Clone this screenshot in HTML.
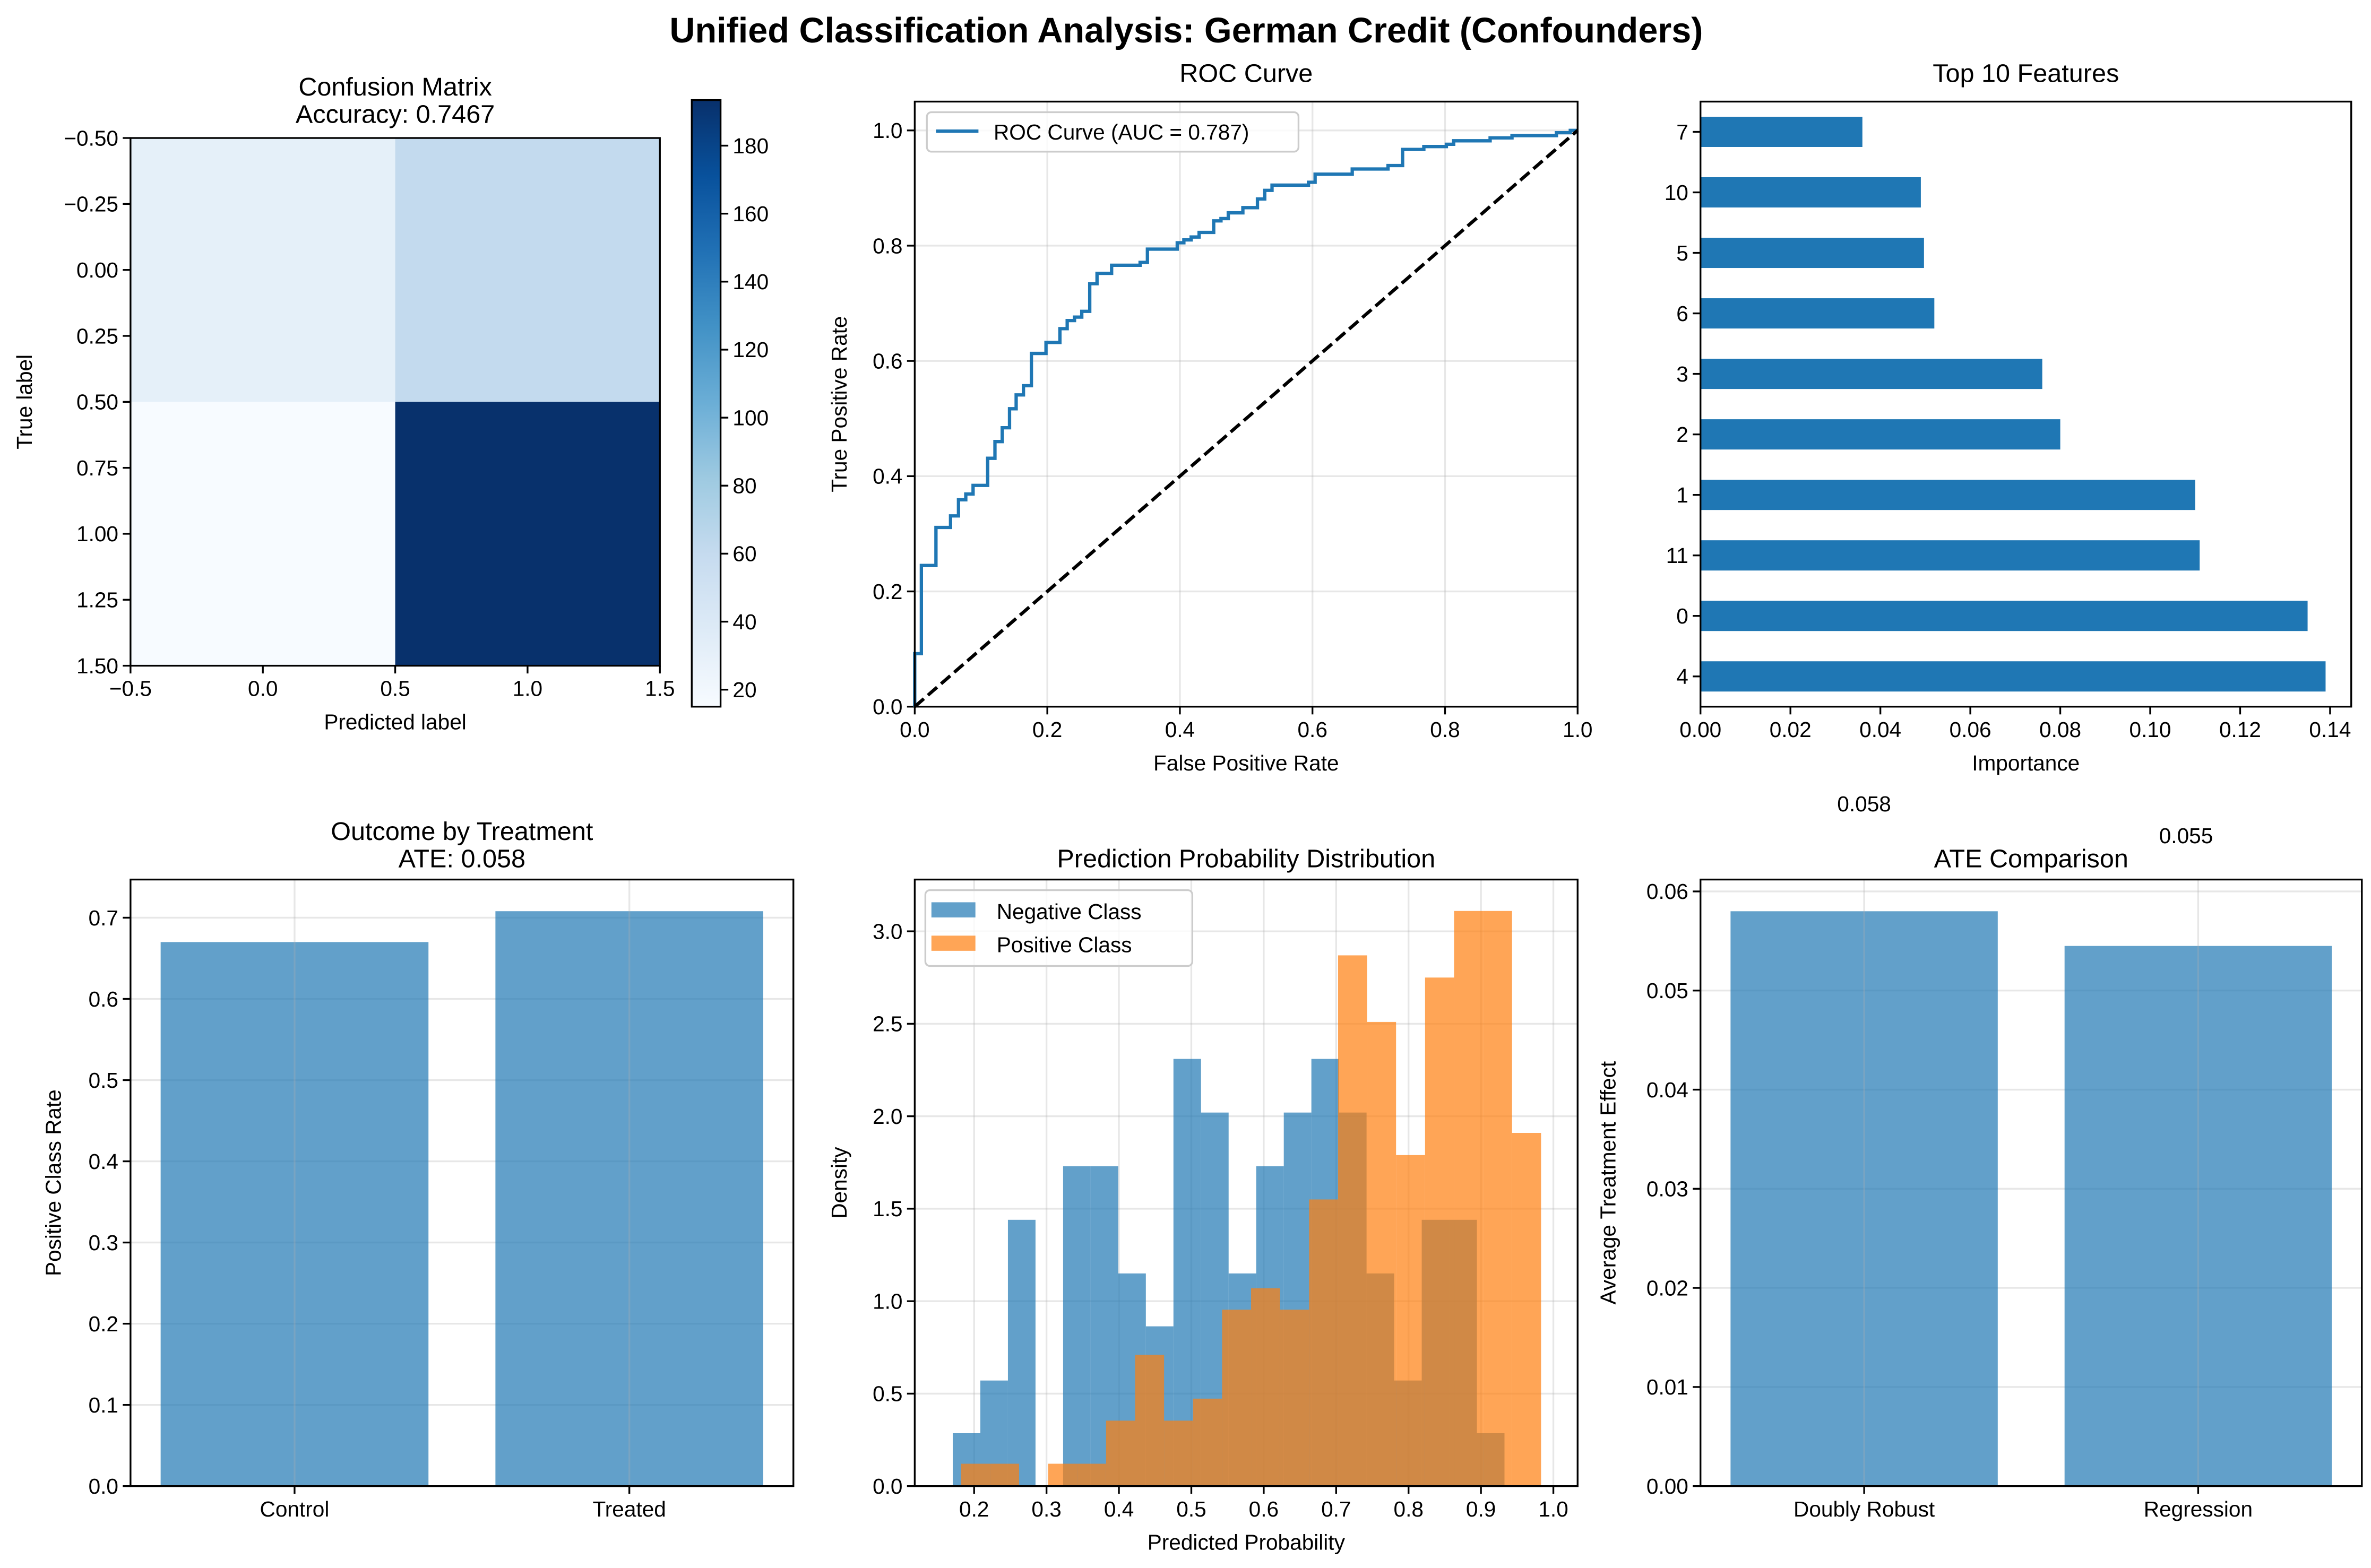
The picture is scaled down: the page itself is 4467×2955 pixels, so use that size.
<!DOCTYPE html>
<html><head><meta charset="utf-8"><style>
html,body{margin:0;padding:0;background:#fff;}
svg{display:block;font-family:"Liberation Sans","DejaVu Sans",sans-serif;}
</style></head><body>
<svg id="fig" xmlns="http://www.w3.org/2000/svg" width="4467" height="2955" viewBox="0 0 1563 1034">
<rect x="0" y="0" width="1563" height="1034" fill="#fff"/>
<text x="782" y="28" text-anchor="middle" font-size="23.3" font-weight="bold">Unified Classification Analysis: German Credit (Confounders)</text>
</svg>
<script>
// ---- data ----
const cmValues = [[31, 61], [15, 193]];
const cmTicksY = [-0.5, -0.25, 0, 0.25, 0.5, 0.75, 1.0, 1.25, 1.5];
const cmTicksX = [-0.5, 0, 0.5, 1.0, 1.5];
const cbTicks = [20, 40, 60, 80, 100, 120, 140, 160, 180];
const rocFpr = [0, 0, 0.01, 0.01, 0.032, 0.032, 0.054, 0.054, 0.066, 0.066, 0.077, 0.077, 0.088, 0.088, 0.11, 0.11, 0.121, 0.121, 0.132, 0.132, 0.143, 0.143, 0.153, 0.153, 0.164, 0.164, 0.176, 0.176, 0.198, 0.198, 0.219, 0.219, 0.23, 0.23, 0.241, 0.241, 0.252, 0.252, 0.264, 0.264, 0.275, 0.275, 0.297, 0.297, 0.34, 0.34, 0.351, 0.351, 0.396, 0.396, 0.406, 0.406, 0.417, 0.417, 0.429, 0.429, 0.451, 0.451, 0.462, 0.462, 0.473, 0.473, 0.495, 0.495, 0.517, 0.517, 0.528, 0.528, 0.539, 0.539, 0.594, 0.594, 0.604, 0.604, 0.66, 0.66, 0.714, 0.714, 0.736, 0.736, 0.768, 0.768, 0.802, 0.802, 0.813, 0.813, 0.868, 0.868, 0.901, 0.901, 0.968, 0.968, 0.989, 0.989, 1.0];
const rocTpr = [0, 0.092, 0.092, 0.245, 0.245, 0.311, 0.311, 0.331, 0.331, 0.359, 0.359, 0.369, 0.369, 0.384, 0.384, 0.431, 0.431, 0.46, 0.46, 0.484, 0.484, 0.517, 0.517, 0.541, 0.541, 0.557, 0.557, 0.613, 0.613, 0.632, 0.632, 0.656, 0.656, 0.67, 0.67, 0.676, 0.676, 0.686, 0.686, 0.734, 0.734, 0.752, 0.752, 0.766, 0.766, 0.771, 0.771, 0.794, 0.794, 0.805, 0.805, 0.81, 0.81, 0.815, 0.815, 0.823, 0.823, 0.843, 0.843, 0.847, 0.847, 0.857, 0.857, 0.866, 0.866, 0.881, 0.881, 0.896, 0.896, 0.905, 0.905, 0.91, 0.91, 0.924, 0.924, 0.933, 0.933, 0.939, 0.939, 0.967, 0.967, 0.972, 0.972, 0.976, 0.976, 0.982, 0.982, 0.987, 0.987, 0.991, 0.991, 0.996, 0.996, 1.0, 1.0];
const unitTicks = [0, 0.2, 0.4, 0.6, 0.8, 1.0];
const featNames = ["7", "10", "5", "6", "3", "2", "1", "11", "0", "4"];
const featValues = [0.036, 0.049, 0.0497, 0.052, 0.076, 0.080, 0.110, 0.111, 0.135, 0.139];
const featTicks = [0, 0.02, 0.04, 0.06, 0.08, 0.10, 0.12, 0.14];
const treatCats = ["Control", "Treated"];
const treatValues = [0.670, 0.708];
const treatTicks = [0, 0.1, 0.2, 0.3, 0.4, 0.5, 0.6, 0.7];
const negStart = 0.1705, negWidth = 0.0381;
const negDensity = [0.286, 0.571, 1.44, 0, 1.73, 1.73, 1.15, 0.864, 2.31, 2.02, 1.15, 1.73, 2.02, 2.31, 2.02, 1.15, 0.571, 1.44, 1.44, 0.286];
const posStart = 0.182, posWidth = 0.04005;
const posDensity = [0.121, 0.121, 0, 0.121, 0.121, 0.354, 0.71, 0.354, 0.473, 0.954, 1.07, 0.954, 1.55, 2.87, 2.51, 1.79, 2.75, 3.11, 3.11, 1.91];
const histTicksX = [0.2, 0.3, 0.4, 0.5, 0.6, 0.7, 0.8, 0.9, 1.0];
const histTicksY = [0, 0.5, 1.0, 1.5, 2.0, 2.5, 3.0];
const ateMethods = ["Doubly Robust", "Regression"];
const ateValues = [0.058, 0.0545];
const ateLabels = ["0.058", "0.055"];
const ateTicks = [0, 0.01, 0.02, 0.03, 0.04, 0.05, 0.06];

// ---- helpers ----
const NS = "http://www.w3.org/2000/svg";
const fig = document.getElementById("fig");
function mk(tag, attrs, parent) {
  const e = document.createElementNS(NS, tag);
  for (const k in attrs) e.setAttribute(k, attrs[k]);
  (parent || fig).appendChild(e);
  return e;
}
function txt(s, attrs, parent) {
  const e = mk("text", attrs, parent);
  e.textContent = s;
  return e;
}
function scale(d0, d1, r0, r1) { return v => r0 + (v - d0) / (d1 - d0) * (r1 - r0); }
const FS = 14.2, GRID = "#b0b0b0";
function lerpHex(a, b, t) {
  const pa = [1,3,5].map(i => parseInt(a.substr(i,2),16));
  const pb = [1,3,5].map(i => parseInt(b.substr(i,2),16));
  return "rgb(" + pa.map((v,i) => Math.round(v + (pb[i]-v)*t)).join(",") + ")";
}
const BLUES = ["#f7fbff","#deebf7","#c6dbef","#9ecae1","#6baed6","#4292c6","#2171b5","#08519c","#08306b"];
function blues(t) {
  t = Math.max(0, Math.min(1, t));
  const p = t * 8, i = Math.min(7, Math.floor(p));
  return lerpHex(BLUES[i], BLUES[i+1], p - i);
}
function frame(g, A) {
  const f = mk("rect", {x:A.L, y:A.T, width:A.R-A.L, height:A.B-A.T, fill:"none", stroke:"#000", "stroke-width":1.17}, g);
  
  
}
function xTicks(g, A, vals, sx, labels, grid) {
  vals.forEach((v, i) => {
    const x = sx(v);
    if (grid) {
      const gl = mk("line", {x1:x, x2:x, y1:A.T, y2:A.B, stroke:GRID, "stroke-opacity":0.3, "stroke-width":1.17}, g);
      
      
    }
    const t = mk("line", {x1:x, x2:x, y1:A.B, y2:A.B+5.1, stroke:"#000", "stroke-width":1.17}, g);
    
    
    const l = txt(labels[i], {x:x, y:A.B+20, "text-anchor":"middle", "font-size":FS}, g);
    
    
  });
}
function yTicks(g, A, vals, sy, labels, grid) {
  vals.forEach((v, i) => {
    const y = sy(v);
    if (grid) {
      const gl = mk("line", {x1:A.L, x2:A.R, y1:y, y2:y, stroke:GRID, "stroke-opacity":0.3, "stroke-width":1.17}, g);
      
      
    }
    const t = mk("line", {x1:A.L-5.1, x2:A.L, y1:y, y2:y, stroke:"#000", "stroke-width":1.17}, g);
    
    
    const l = txt(labels[i], {x:A.L-8, y:y+5, "text-anchor":"end", "font-size":FS}, g);
    
    
  });
}
function titleLines(g, A, lines, base) {
  lines.forEach((s, i) => {
    const t = txt(s, {x:(A.L+A.R)/2, y:base + i*18, "text-anchor":"middle", "font-size":17}, g);
    
    
  });
}
function xLabel(g, A, s) {
  const t = txt(s, {x:(A.L+A.R)/2, y:A.B+42, "text-anchor":"middle", "font-size":FS}, g);
  
  
}
function yLabel(g, A, s, off) {
  const cx = A.L - off, cy = (A.T+A.B)/2;
  const t = txt(s, {x:cx, y:cy, "text-anchor":"middle", "font-size":FS, transform:"rotate(-90 "+cx+" "+cy+")"}, g);
  
  
}
const fmt = d => v => (v < 0 ? "\u2212" : "") + Math.abs(v).toFixed(d);

// ---- Panel 1: confusion matrix ----
(function(){
  const g = mk("g", {});
  
  
  const A = {L:86, R:435, T:91, B:439};
  const sx = scale(-0.5, 1.5, A.L, A.R), sy = scale(-0.5, 1.5, A.T, A.B);
  const vmin = 15, vmax = 193.4;
  cmValues.forEach((row, r) => row.forEach((v, c) => {
    const cell = mk("rect", {x:sx(c-0.5), y:sy(r-0.5), width:sx(c+0.5)-sx(c-0.5), height:sy(r+0.5)-sy(r-0.5), fill:blues((v-vmin)/(vmax-vmin))}, g);
    
    
  }));
  frame(g, A);
  xTicks(g, A, cmTicksX, sx, cmTicksX.map(fmt(1)), false);
  yTicks(g, A, cmTicksY, sy, cmTicksY.map(fmt(2)), false);
  titleLines(g, A, ["Confusion Matrix", "Accuracy: 0.7467"], 63);
  xLabel(g, A, "Predicted label");
  yLabel(g, A, "True label", 65);
  // colorbar
  const C = {L:456, R:475, T:66, B:466};
  const cy = scale(vmin, vmax, C.B, C.T);
  const defs = mk("defs", {}, g);
  const lg = mk("linearGradient", {id:"cbg", x1:0, y1:1, x2:0, y2:0}, defs);
  for (let i = 0; i <= 16; i++) mk("stop", {offset:(i/16), "stop-color":blues(i/16)}, lg);
  const cb = mk("rect", {x:C.L, y:C.T, width:C.R-C.L, height:C.B-C.T, fill:"url(#cbg)", stroke:"#000", "stroke-width":1.17}, g);
  
  
  cbTicks.forEach(v => {
    const y = cy(v);
    const t = mk("line", {x1:C.R, x2:C.R+5.1, y1:y, y2:y, stroke:"#000", "stroke-width":1.17}, g);
    
    
    const l = txt(String(v), {x:C.R+8, y:y+5, "font-size":FS}, g);
    
    
  });
})();

// ---- Panel 2: ROC ----
(function(){
  const g = mk("g", {});
  
  
  const A = {L:603, R:1040, T:67, B:466};
  const sx = scale(0, 1, A.L, A.R), sy = scale(0, 1.05, A.B, A.T);
  xTicks(g, A, unitTicks, sx, unitTicks.map(fmt(1)), true);
  yTicks(g, A, unitTicks, sy, unitTicks.map(fmt(1)), true);
  const d = rocFpr.map((f, i) => (i ? "L" : "M") + sx(f).toFixed(2) + "," + sy(rocTpr[i]).toFixed(2)).join("");
  const p = mk("path", {d:d, fill:"none", stroke:"#1f77b4", "stroke-width":2.2}, g);
  
  
  const dl = mk("line", {x1:sx(0), y1:sy(0), x2:sx(1), y2:sy(1), stroke:"#000", "stroke-width":2.2, "stroke-dasharray":"8 3.5"}, g);
  
  
  frame(g, A);
  titleLines(g, A, ["ROC Curve"], 54);
  xLabel(g, A, "False Positive Rate");
  yLabel(g, A, "True Positive Rate", 45);
  const lb = mk("rect", {x:611, y:74, width:245, height:26, rx:3, fill:"#fff", "fill-opacity":0.8, stroke:"#ccc", "stroke-width":1.17}, g);
  
  
  const ll = mk("line", {x1:617, x2:645, y1:86.5, y2:86.5, stroke:"#1f77b4", "stroke-width":2.2}, g);
  
  
  const lt = txt("ROC Curve (AUC = 0.787)", {x:655, y:92, "font-size":FS}, g);
  
  
})();

// ---- Panel 3: top features ----
(function(){
  const g = mk("g", {});
  
  
  const A = {L:1121, R:1550, T:67, B:466};
  const sx = scale(0, 0.1447, A.L, A.R), sy = scale(-0.5, 9.5, A.B, A.T);
  featValues.forEach((v, i) => {
    const pos = featNames.length - 1 - i;
    const b = mk("rect", {x:sx(0), y:sy(pos+0.25), width:sx(v)-sx(0), height:sy(pos-0.25)-sy(pos+0.25), fill:"#1f77b4"}, g);
    
    
  });
  frame(g, A);
  xTicks(g, A, featTicks, sx, featTicks.map(fmt(2)), false);
  const pos = featNames.map((n, i) => featNames.length - 1 - i);
  yTicks(g, A, pos, sy, featNames, false);
  titleLines(g, A, ["Top 10 Features"], 54);
  xLabel(g, A, "Importance");
})();

// ---- Panel 4: outcome by treatment ----
(function(){
  const g = mk("g", {});
  
  
  const A = {L:86, R:523, T:580, B:980};
  const sx = scale(-0.49, 1.49, A.L, A.R), sy = scale(0, 0.747, A.B, A.T);
  yTicks(g, A, treatTicks, sy, treatTicks.map(fmt(1)), true);
  treatValues.forEach((v, i) => {
    const b = mk("rect", {x:sx(i-0.4), y:sy(v), width:sx(i+0.4)-sx(i-0.4), height:sy(0)-sy(v), fill:"#1f77b4", "fill-opacity":0.7}, g);
    
    
  });
  xTicks(g, A, [0, 1], sx, treatCats, true);
  frame(g, A);
  titleLines(g, A, ["Outcome by Treatment", "ATE: 0.058"], 554);
  yLabel(g, A, "Positive Class Rate", 46);
})();

// ---- Panel 5: probability histogram ----
(function(){
  const g = mk("g", {});
  
  
  const A = {L:603, R:1040, T:580, B:980};
  const sx = scale(0.118, 1.0335, A.L, A.R), sy = scale(0, 3.28, A.B, A.T);
  xTicks(g, A, histTicksX, sx, histTicksX.map(fmt(1)), true);
  yTicks(g, A, histTicksY, sy, histTicksY.map(fmt(1)), true);
  negDensity.forEach((v, i) => {
    if (v <= 0) return;
    const x0 = negStart + i*negWidth;
    const b = mk("rect", {x:sx(x0), y:sy(v), width:sx(x0+negWidth)-sx(x0), height:sy(0)-sy(v), fill:"#1f77b4", "fill-opacity":0.7}, g);
    
    
  });
  posDensity.forEach((v, i) => {
    if (v <= 0) return;
    const x0 = posStart + i*posWidth;
    const b = mk("rect", {x:sx(x0), y:sy(v), width:sx(x0+posWidth)-sx(x0), height:sy(0)-sy(v), fill:"#ff7f0e", "fill-opacity":0.7}, g);
    
    
  });
  frame(g, A);
  titleLines(g, A, ["Prediction Probability Distribution"], 572);
  xLabel(g, A, "Predicted Probability");
  yLabel(g, A, "Density", 45);
  const lb = mk("rect", {x:610, y:587, width:176, height:50, rx:3, fill:"#fff", "fill-opacity":0.8, stroke:"#ccc", "stroke-width":1.17}, g);
  
  
  const p1 = mk("rect", {x:614, y:595, width:29, height:10, fill:"#1f77b4", "fill-opacity":0.7}, g);
  
  
  const t1 = txt("Negative Class", {x:657, y:606, "font-size":FS}, g);
  
  
  const p2 = mk("rect", {x:614, y:617, width:29, height:10, fill:"#ff7f0e", "fill-opacity":0.7}, g);
  
  
  const t2 = txt("Positive Class", {x:657, y:628, "font-size":FS}, g);
  
  
})();

// ---- Panel 6: ATE comparison ----
(function(){
  const g = mk("g", {});
  
  
  const A = {L:1121, R:1557, T:580, B:980};
  const sx = scale(-0.49, 1.49, A.L, A.R), sy = scale(0, 0.0612, A.B, A.T);
  yTicks(g, A, ateTicks, sy, ateTicks.map(fmt(2)), true);
  ateValues.forEach((v, i) => {
    const b = mk("rect", {x:sx(i-0.4), y:sy(v), width:sx(i+0.4)-sx(i-0.4), height:sy(0)-sy(v), fill:"#1f77b4", "fill-opacity":0.7}, g);
    
    
  });
  xTicks(g, A, [0, 1], sx, ateMethods, true);
  frame(g, A);
  titleLines(g, A, ["ATE Comparison"], 572);
  yLabel(g, A, "Average Treatment Effect", 56);
  const l1 = txt(ateLabels[0], {x:sx(0), y:535, "text-anchor":"middle", "font-size":FS}, g);
  
  
  const l2 = txt(ateLabels[1], {x:sx(1)-8, y:556, "text-anchor":"middle", "font-size":FS}, g);
  
  
})();
</script>
</body></html>
